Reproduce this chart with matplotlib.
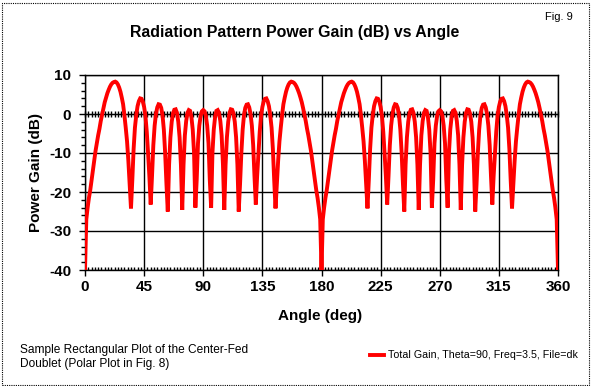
import matplotlib
matplotlib.use("Agg")
import matplotlib.pyplot as plt
from matplotlib.patches import Rectangle
from matplotlib.lines import Line2D
from matplotlib.ticker import MultipleLocator

plt.rcParams['font.family'] = ['Liberation Sans', 'DejaVu Sans']
plt.rcParams['axes.unicode_minus'] = False

# ---------------- data ----------------
title_text = "Radiation Pattern Power Gain (dB) vs Angle"
x_label = "Angle (deg)"
y_label = "Power Gain (dB)"
fig_label = "Fig. 9"
note_text = "Sample Rectangular Plot of the Center-Fed\nDoublet (Polar Plot in Fig. 8)"
series_name = "Total Gain, Theta=90, Freq=3.5, File=dk"

x_ticks = [0, 45, 90, 135, 180, 225, 270, 315, 360]
y_ticks = [-40, -30, -20, -10, 0, 10]

angle_deg = list(range(0, 361))  # 1 degree steps

gain_db = [
    # 0 .. 90
    -40, -27, -24, -21.5, -19.5, -17, -14.5, -12, -9.5, -7.5,
    -5.5, -3.8, -1.8, -0.2, 1.5, 3.0, 4.2, 5.3, 6.2, 7.0,
    7.6, 8.0, 8.2, 8.3, 8.1, 7.6, 6.8, 5.7, 4.2, 2.5,
    -0.3, -3.5, -7, -12, -18, -24.2, -17, -9, -3.5, -0.3,
    2.0, 3.3, 4.0, 3.9, 3.2, 1.8, -0.5, -4.5, -10, -16,
    -23.2, -16, -8, -3, 0, 1.7, 2.5, 2.4, 1.6, -0.3,
    -4, -10, -18, -25, -13, -6, -2, 0.2, 1.1, 1.2,
    0.3, -2, -6, -13, -24.6, -13, -5.5, -1.8, 0.3, 1.0,
    0.8, -0.8, -4, -10, -24, -17, -7.5, -3, -0.5, 0.7,
    1.0,
    # 91 .. 180
    0.7, -0.5, -3, -7.5, -17, -24, -10, -4, -0.8, 0.8,
    1.0, 0.3, -1.8, -5.5, -13, -24.6, -13, -6, -2, 0.3,
    1.2, 1.1, 0.2, -2, -6, -13, -25, -18, -10, -4,
    -0.3, 1.6, 2.4, 2.5, 1.7, 0, -3, -8, -16, -23.2,
    -16, -10, -4.5, -0.5, 1.8, 3.2, 3.9, 4.0, 3.3, 2.0,
    -0.3, -3.5, -9, -17, -24.2, -18, -12, -7, -3.5, -0.3,
    2.5, 4.2, 5.7, 6.8, 7.6, 8.1, 8.3, 8.2, 8.0, 7.6,
    7.0, 6.2, 5.3, 4.2, 3.0, 1.5, -0.2, -1.8, -3.8, -5.5,
    -7.5, -9.5, -12, -14.5, -17, -19.5, -21.5, -24, -27, -40,
    # 181 .. 270
    -27, -24, -21.5, -19.5, -17, -14.5, -12, -9.5, -7.5,
    -5.5, -3.8, -1.8, -0.2, 1.5, 3.0, 4.2, 5.3, 6.2, 7.0,
    7.6, 8.0, 8.2, 8.3, 8.1, 7.6, 6.8, 5.7, 4.2, 2.5,
    -0.3, -3.5, -7, -12, -18, -24.2, -17, -9, -3.5, -0.3,
    2.0, 3.3, 4.0, 3.9, 3.2, 1.8, -0.5, -4.5, -10, -16,
    -23.2, -16, -8, -3, 0, 1.7, 2.5, 2.4, 1.6, -0.3,
    -4, -10, -18, -25, -13, -6, -2, 0.2, 1.1, 1.2,
    0.3, -2, -6, -13, -24.6, -13, -5.5, -1.8, 0.3, 1.0,
    0.8, -0.8, -4, -10, -24, -17, -7.5, -3, -0.5, 0.7,
    1.0,
    # 271 .. 360
    0.7, -0.5, -3, -7.5, -17, -24, -10, -4, -0.8, 0.8,
    1.0, 0.3, -1.8, -5.5, -13, -24.6, -13, -6, -2, 0.3,
    1.2, 1.1, 0.2, -2, -6, -13, -25, -18, -10, -4,
    -0.3, 1.6, 2.4, 2.5, 1.7, 0, -3, -8, -16, -23.2,
    -16, -10, -4.5, -0.5, 1.8, 3.2, 3.9, 4.0, 3.3, 2.0,
    -0.3, -3.5, -9, -17, -24.2, -18, -12, -7, -3.5, -0.3,
    2.5, 4.2, 5.7, 6.8, 7.6, 8.1, 8.3, 8.2, 8.0, 7.6,
    7.0, 6.2, 5.3, 4.2, 3.0, 1.5, -0.2, -1.8, -3.8, -5.5,
    -7.5, -9.5, -12, -14.5, -17, -19.5, -21.5, -24, -27, -40,
]

# ---------------- figure ----------------
W, H = 592, 386
fig = plt.figure(figsize=(W / 100, H / 100), dpi=100)
fig.patch.set_facecolor('white')

# dotted chart-area border
fig.patches.append(Rectangle((1.5 / W, 1.5 / H), (W - 4.5) / W, (H - 4) / H,
                             transform=fig.transFigure, fill=False,
                             edgecolor='black', linewidth=0.8,
                             linestyle=(0, (1, 1))))

ax = fig.add_axes([85 / W, 1 - 270 / H, 473 / W, 195 / H])
ax.plot(angle_deg, gain_db, color='#ff0000', linewidth=2.8, zorder=3,
        solid_joinstyle='miter')

ax.set_xlim(0, 360)
ax.set_ylim(-40, 10)
ax.set_xticks(x_ticks)
ax.set_yticks(y_ticks)
ax.xaxis.set_minor_locator(MultipleLocator(2.5))
ax.yaxis.set_minor_locator(MultipleLocator(2))
ax.grid(True, which='major', color='black', linewidth=1.0)
ax.set_axisbelow(True)
for s in ax.spines.values():
    s.set_linewidth(1.0)
    s.set_color('black')

ax.tick_params(axis='x', which='major', direction='out', length=4, width=1,
               pad=3, labelsize=11)
ax.tick_params(axis='x', which='minor', direction='in', length=2.5, width=1)
ax.tick_params(axis='y', which='major', direction='out', length=4, width=1,
               pad=6, labelsize=11)
ax.tick_params(axis='y', which='minor', direction='out', length=3, width=1)
for lab in ax.get_xticklabels() + ax.get_yticklabels():
    lab.set_fontweight('bold')

# axis line at 0 dB with crossing minor ticks
sec = ax.secondary_xaxis(0.8)
sec.set_xticks(x_ticks)
sec.set_xticklabels([])
sec.xaxis.set_minor_locator(MultipleLocator(2.5))
sec.tick_params(which='both', direction='inout', length=5, width=1)
sec.spines['bottom'].set_linewidth(1.0)
sec.set_zorder(2)

# texts
fig.text(295 / W, 1 - 32 / H, title_text, ha='center', va='center',
         fontsize=11.4, fontweight='bold')
fig.text(559 / W, 1 - 17 / H, fig_label, ha='center', va='center', fontsize=8)
fig.text(320 / W, 1 - 316 / H, x_label, ha='center', va='center',
         fontsize=11, fontweight='bold')
fig.text(36 / W, 1 - 172 / H, y_label, ha='center', va='center',
         fontsize=11, fontweight='bold', rotation=90)
fig.text(20 / W, 1 - 357 / H, note_text, ha='left', va='center',
         fontsize=8.6, linespacing=1.2)

# legend entry
fig.add_artist(Line2D([370 / W, 384 / W], [1 - 355 / H, 1 - 355 / H],
                      color='#ff0000', linewidth=2.8,
                      transform=fig.transFigure))
fig.text(388 / W, 1 - 355 / H, series_name, ha='left', va='center',
         fontsize=7.7)

fig.savefig("out.png", dpi=100)
